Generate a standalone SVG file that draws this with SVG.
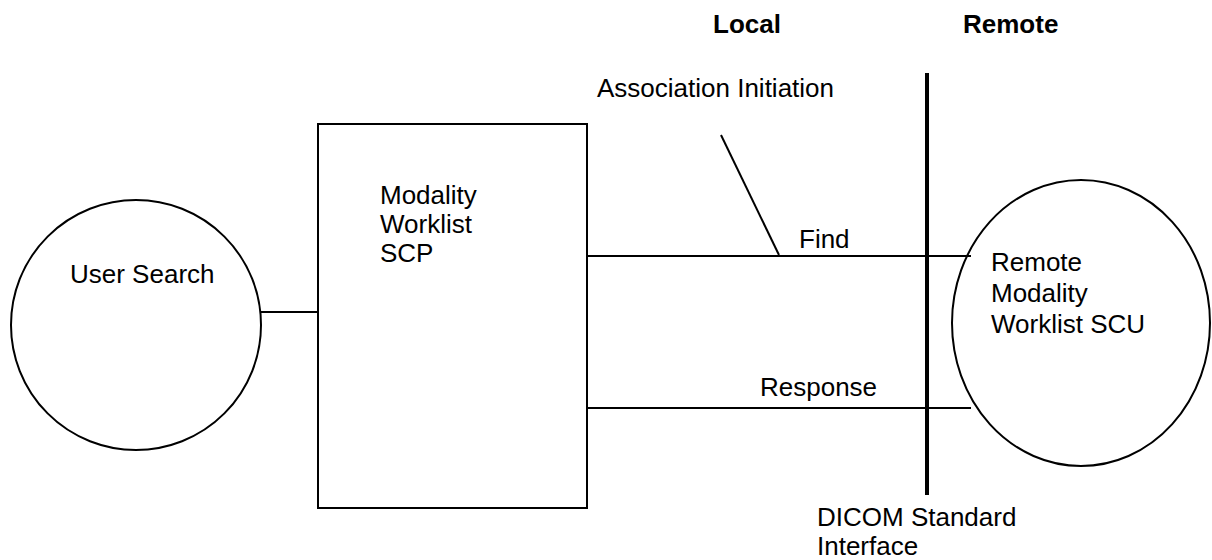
<svg xmlns="http://www.w3.org/2000/svg" width="1212" height="560" viewBox="0 0 1212 560">
<style>
.t{font-family:"Liberation Sans",Arial,sans-serif;font-size:26px;fill:#000}
.b{font-weight:bold}
.s{fill:#fff;stroke:#000;stroke-width:2}
.l{stroke:#000;stroke-width:2;fill:none}
</style>
<rect width="1212" height="560" fill="#fff"/>
<text class="t b" x="713" y="33">Local</text>
<text class="t b" x="963" y="33">Remote</text>
<text class="t" x="597" y="97">Association Initiation</text>
<g id="connectors">
<line class="l" x1="261" y1="312" x2="318" y2="312"/>
<line class="l" x1="587" y1="256" x2="971" y2="256"/>
<line class="l" x1="587" y1="408" x2="971" y2="408"/>
<line class="l" x1="721" y1="135" x2="779" y2="255"/>
<line stroke="#000" stroke-width="4" x1="927" y1="73" x2="927" y2="495"/>
</g>
<text class="t" x="799" y="248">Find</text>
<text class="t" x="760" y="396">Response</text>
<g id="user-search">
<circle class="s" cx="136" cy="325" r="125"/>
<text class="t" x="70" y="283">User Search</text>
</g>
<g id="mwl-scp">
<rect class="s" x="318" y="124" width="269" height="384"/>
<text class="t" x="380" y="204">Modality</text>
<text class="t" x="380" y="233">Worklist</text>
<text class="t" x="380" y="262">SCP</text>
</g>
<g id="remote-scu">
<ellipse cx="1081" cy="323" rx="129" ry="143" fill="none" stroke="#000" stroke-width="2"/>
<text class="t" x="991" y="271">Remote</text>
<text class="t" x="991" y="302">Modality</text>
<text class="t" x="991" y="333">Worklist SCU</text>
</g>
<text class="t" x="817" y="526">DICOM Standard</text>
<text class="t" x="817" y="555">Interface</text>
</svg>
